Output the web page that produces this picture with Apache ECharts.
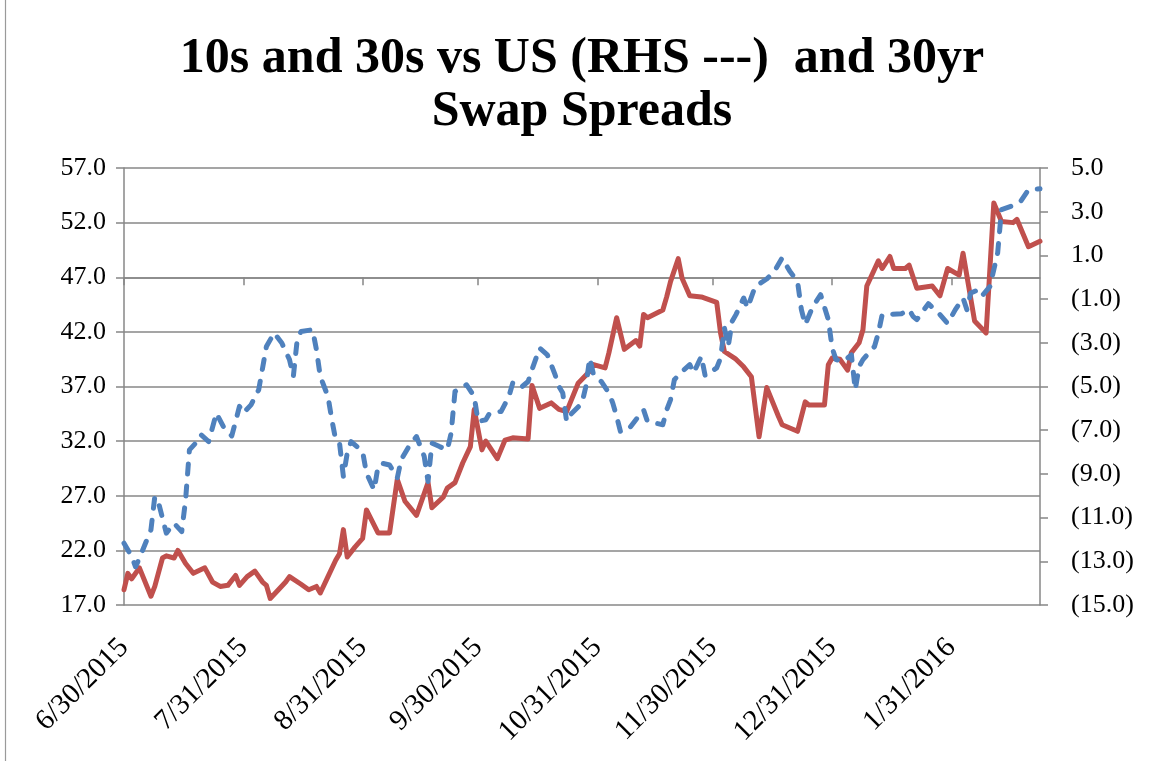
<!DOCTYPE html>
<html>
<head>
<meta charset="utf-8">
<script src="https://cdn.jsdelivr.net/npm/echarts@6/dist/echarts.min.js"></script>
<style>
  html, body { margin: 0; padding: 0; background: #ffffff; }
  #chart { width: 1153px; height: 761px; }
</style>
</head>
<body>
<div id="chart"></div>
<script>
// ---- Data ----
const titleText = '10s and 30s vs US (RHS ---)  and 30yr\nSwap Spreads';

const tickDates = ['2015-06-30', '2015-07-31', '2015-08-31', '2015-09-30', '2015-10-31', '2015-11-30', '2015-12-31', '2016-01-31'];
const tickLabels = ['6/30/2015', '7/31/2015', '8/31/2015', '9/30/2015', '10/31/2015', '11/30/2015', '12/31/2015', '1/31/2016'];

// 30yr swap spread (left axis, solid red)
const redDates = [
  '2015-06-30','2015-07-01','2015-07-02','2015-07-04','2015-07-07','2015-07-08','2015-07-10','2015-07-11','2015-07-13','2015-07-14',
  '2015-07-16','2015-07-18','2015-07-21','2015-07-23','2015-07-25','2015-07-27','2015-07-29','2015-07-30','2015-08-01','2015-08-03',
  '2015-08-05','2015-08-06','2015-08-07','2015-08-11','2015-08-12','2015-08-15','2015-08-17','2015-08-19','2015-08-20','2015-08-22',
  '2015-08-24','2015-08-25','2015-08-26','2015-08-27','2015-08-29','2015-08-31','2015-09-01','2015-09-04','2015-09-07','2015-09-09',
  '2015-09-11','2015-09-14','2015-09-17','2015-09-18','2015-09-21','2015-09-22','2015-09-24','2015-09-26','2015-09-28','2015-09-29',
  '2015-10-01','2015-10-02','2015-10-05','2015-10-07','2015-10-09','2015-10-13','2015-10-14','2015-10-16','2015-10-19','2015-10-21',
  '2015-10-23','2015-10-26','2015-10-29','2015-10-30','2015-11-02','2015-11-03','2015-11-05','2015-11-07','2015-11-10','2015-11-11',
  '2015-11-12','2015-11-13','2015-11-17','2015-11-18','2015-11-19','2015-11-21','2015-11-22','2015-11-24','2015-11-27','2015-12-01',
  '2015-12-02','2015-12-03','2015-12-06','2015-12-08','2015-12-10','2015-12-12','2015-12-14','2015-12-17','2015-12-18','2015-12-22',
  '2015-12-24','2015-12-25','2015-12-29','2015-12-30','2015-12-31','2016-01-02','2016-01-04','2016-01-05','2016-01-07','2016-01-08',
  '2016-01-09','2016-01-12','2016-01-13','2016-01-15','2016-01-16','2016-01-19','2016-01-20','2016-01-22','2016-01-26','2016-01-28',
  '2016-01-30','2016-02-02','2016-02-03','2016-02-06','2016-02-09','2016-02-11','2016-02-13','2016-02-16','2016-02-17','2016-02-20',
  '2016-02-23'
];
const redValues = [
  18.4, 19.9, 19.4, 20.4, 17.8, 18.7, 21.3, 21.5, 21.3, 22.0,
  20.8, 19.9, 20.4, 19.1, 18.7, 18.8, 19.7, 18.8, 19.6, 20.1,
  19.1, 18.8, 17.6, 19.1, 19.6, 18.9, 18.4, 18.7, 18.1, 19.6,
  21.1, 21.7, 23.9, 21.4, 22.3, 23.1, 25.7, 23.6, 23.6, 28.5,
  26.5, 25.2, 28.2, 25.9, 26.9, 27.7, 28.2, 30.0, 31.5, 34.9,
  31.2, 32.0, 30.4, 32.1, 32.3, 32.2, 37.1, 35.0, 35.5, 34.9,
  34.7, 37.3, 38.4, 39.0, 38.7, 40.1, 43.3, 40.4, 41.2, 40.7,
  43.6, 43.3, 44.0, 45.2, 46.6, 48.7, 46.9, 45.3, 45.2, 44.7,
  41.9, 40.2, 39.5, 38.8, 37.9, 32.4, 36.9, 34.3, 33.5, 32.9,
  35.6, 35.3, 35.3, 39.0, 39.6, 39.5, 38.5, 40.1, 41.0, 42.2,
  46.2, 48.5, 47.8, 48.9, 47.8, 47.8, 48.1, 46.0, 46.2, 45.3,
  47.8, 47.2, 49.2, 43.0, 41.9, 53.8, 52.1, 52.0, 52.3, 49.8,
  50.3
];

// 10s and 30s vs US (right axis, dashed blue)
const blueDates = [
  '2015-06-30','2015-07-02','2015-07-03','2015-07-04','2015-07-07','2015-07-08','2015-07-09','2015-07-11','2015-07-13','2015-07-15',
  '2015-07-16','2015-07-17','2015-07-19','2015-07-20','2015-07-22','2015-07-24','2015-07-26','2015-07-28','2015-07-29','2015-07-30',
  '2015-07-31','2015-08-02','2015-08-04','2015-08-06','2015-08-08','2015-08-10','2015-08-12','2015-08-13','2015-08-14','2015-08-15',
  '2015-08-18','2015-08-19','2015-08-20','2015-08-22','2015-08-23','2015-08-24','2015-08-25','2015-08-26','2015-08-27','2015-08-28',
  '2015-08-31','2015-09-01','2015-09-03','2015-09-04','2015-09-05','2015-09-07','2015-09-09','2015-09-10','2015-09-12','2015-09-14',
  '2015-09-16','2015-09-17','2015-09-18','2015-09-20','2015-09-22','2015-09-23','2015-09-24','2015-09-27','2015-09-29','2015-09-30',
  '2015-10-02','2015-10-03','2015-10-06','2015-10-08','2015-10-09','2015-10-11','2015-10-13','2015-10-14','2015-10-16','2015-10-18',
  '2015-10-20','2015-10-21','2015-10-22','2015-10-23','2015-10-24','2015-10-27','2015-10-28','2015-10-29','2015-10-30','2015-11-01',
  '2015-11-03','2015-11-04','2015-11-05','2015-11-06','2015-11-08','2015-11-10','2015-11-12','2015-11-13','2015-11-17','2015-11-18',
  '2015-11-19','2015-11-20','2015-11-22','2015-11-24','2015-11-25','2015-11-27','2015-11-28','2015-12-01','2015-12-02','2015-12-03',
  '2015-12-04','2015-12-05','2015-12-06','2015-12-08','2015-12-09','2015-12-11','2015-12-14','2015-12-16','2015-12-18','2015-12-20',
  '2015-12-22','2015-12-23','2015-12-24','2015-12-26','2015-12-28','2015-12-30','2015-12-31','2016-01-01','2016-01-03','2016-01-05',
  '2016-01-06','2016-01-07','2016-01-08','2016-01-11','2016-01-12','2016-01-13','2016-01-18','2016-01-20','2016-01-21','2016-01-22',
  '2016-01-25','2016-01-28','2016-01-30','2016-02-01','2016-02-03','2016-02-04','2016-02-05','2016-02-07','2016-02-08','2016-02-10',
  '2016-02-12','2016-02-13','2016-02-16','2016-02-18','2016-02-20','2016-02-23'
];
const blueValues = [
  -12.17, -12.79, -13.25, -12.86, -11.56, -10.04, -10.34, -11.71, -11.26, -11.64,
  -10.19, -7.90, -7.52, -7.21, -7.52, -6.22, -6.90, -7.26, -6.60, -5.91,
  -6.22, -5.84, -5.15, -3.17, -2.55, -3.01, -3.77, -4.54, -2.86, -2.48,
  -2.40, -3.32, -4.54, -5.46, -6.52, -7.44, -7.59, -9.12, -8.05, -7.52,
  -7.98, -8.97, -9.73, -8.66, -8.51, -8.59, -9.19, -8.36, -7.75, -7.29,
  -8.20, -9.35, -7.59, -7.75, -7.90, -7.13, -5.23, -4.92, -5.46, -6.60,
  -6.52, -6.22, -6.14, -5.46, -4.84, -5.07, -4.77, -4.23, -3.24, -3.55,
  -4.46, -5.00, -5.30, -6.60, -6.29, -5.76, -5.00, -3.70, -4.46, -4.77,
  -5.30, -5.76, -6.37, -7.06, -6.98, -6.52, -6.07, -6.60, -6.75, -6.07,
  -5.61, -4.69, -4.31, -4.00, -4.38, -3.62, -4.51, -4.15, -3.70, -2.32,
  -3.16, -2.02, -1.71, -0.95, -1.41, -0.42, -0.08, 0.27, 0.89, 0.27,
  -0.19, -1.48, -2.17, -1.33, -0.80, -1.94, -3.24, -3.77, -3.85, -3.55,
  -5.15, -4.08, -3.77, -3.17, -2.55, -1.71, -1.67, -1.48, -1.79, -1.94,
  -1.21, -1.71, -2.12, -1.48, -0.95, -1.48, -0.72, -0.57, -0.84, -0.42,
  1.11, 3.10, 3.28, 3.48, 4.01, 4.05
];

// ---- Helpers ----
function ts(s) {
  const p = s.split('-').map(Number);
  return Date.UTC(p[0], p[1] - 1, p[2]);
}
const tickTs = tickDates.map(ts);
function pairs(dates, vals) { return dates.map((d, i) => [ts(d), vals[i]]); }

const GRID = '#878787';
const FONT = "'Liberation Serif', 'DejaVu Serif', serif";

const chart = echarts.init(document.getElementById('chart'), null, { renderer: 'canvas' });

chart.setOption({
  animation: false,
  backgroundColor: '#ffffff',
  grid: { left: 124, right: 113, top: 168, bottom: 156, containLabel: false },
  graphic: [
    {
      type: 'text',
      x: 582,
      y: 33,
      style: {
        text: titleText,
        fill: '#000000',
        font: "bold 50px 'Liberation Serif', serif",
        align: 'center',
        verticalAlign: 'top',
        lineHeight: 53
      }
    },
    {
      type: 'line',
      shape: { x1: 5.5, y1: 0, x2: 5.5, y2: 761 },
      style: { stroke: '#9a9a9a', lineWidth: 1.2 }
    }
  ],
  xAxis: {
    type: 'value',
    min: ts('2015-06-30'),
    max: ts('2016-02-23'),
    axisLine: { show: true, lineStyle: { color: GRID, width: 1.5 } },
    axisTick: { show: true, length: 8, inside: false, customValues: tickTs, lineStyle: { color: GRID, width: 1.5 } },
    axisLabel: {
      customValues: tickTs,
      rotate: 45,
      margin: 38,
      color: '#000000',
      fontFamily: FONT,
      fontSize: 29,
      formatter: function (v) {
        const i = tickTs.indexOf(v);
        return i >= 0 ? tickLabels[i] : '';
      }
    },
    splitLine: { show: false }
  },
  yAxis: [
    {
      type: 'value',
      position: 'left',
      min: 17, max: 57, interval: 5,
      axisLine: { show: true, lineStyle: { color: GRID, width: 1.5 } },
      axisTick: { show: true, length: 8, inside: false, lineStyle: { color: GRID, width: 1.5 } },
      axisLabel: {
        margin: 18, color: '#000000', fontFamily: FONT, fontSize: 26,
        formatter: v => v.toFixed(1)
      },
      splitLine: { show: true, lineStyle: { color: GRID, width: 1.5 } }
    },
    {
      type: 'value',
      position: 'right',
      min: -15, max: 5, interval: 2,
      axisLine: { show: true, lineStyle: { color: GRID, width: 1.5 } },
      axisTick: { show: true, length: 8, inside: false, lineStyle: { color: GRID, width: 1.5 } },
      axisLabel: {
        margin: 31, color: '#000000', fontFamily: FONT, fontSize: 26,
        formatter: v => v < 0 ? '(' + Math.abs(v).toFixed(1) + ')' : v.toFixed(1)
      },
      splitLine: { show: false }
    }
  ],
  series: [
    {
      name: '30yr Swap Spread',
      type: 'line',
      yAxisIndex: 0,
      data: pairs(redDates, redValues),
      showSymbol: false,
      symbol: 'none',
      lineStyle: { color: '#C0504D', width: 5, join: 'round', cap: 'round' },
      z: 2
    },
    {
      name: '10s and 30s vs US',
      type: 'line',
      yAxisIndex: 1,
      data: pairs(blueDates, blueValues),
      showSymbol: false,
      symbol: 'none',
      lineStyle: { color: '#4F81BD', width: 5, type: [10, 12], cap: 'round', join: 'round' },
      z: 3
    }
  ]
});
</script>
</body>
</html>
